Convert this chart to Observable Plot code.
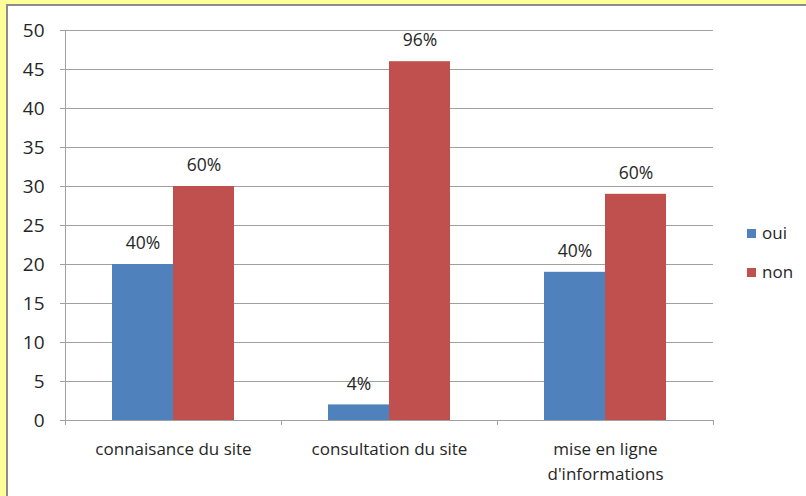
<!DOCTYPE html>
<html><head><meta charset="utf-8">
<script src="https://cdn.jsdelivr.net/npm/d3@7"></script>
<script src="https://cdn.jsdelivr.net/npm/@observablehq/plot@0.6"></script>
<style>
body{margin:0;background:#ffff99;width:806px;height:496px;overflow:hidden;position:relative;font-family:"Open Sans",sans-serif}
#panel{position:absolute;left:6px;top:4px;width:800px;height:492px;background:#fff;border-left:2px solid #8c8c8c;border-top:2px solid #8c8c8c}
#chart{position:absolute;left:0;top:0}
.leg{position:absolute;left:747px;font-size:17px;line-height:20px;color:#262626;display:flex;align-items:center}
.sw{width:9px;height:9px;margin-right:6px}
</style></head><body>
<div id="panel"></div>
<div id="chart"></div>
<div id="legend"></div>
<script>
const categories = ["connaisance du site", "consultation du site", "mise en ligne\nd'informations"];
const series = ["oui", "non"];
const ouiValues = [20, 2, 19];
const nonValues = [30, 46, 29];
const ouiLabels = ["40%", "4%", "40%"];
const nonLabels = ["60%", "96%", "60%"];
const yTicks = [0, 5, 10, 15, 20, 25, 30, 35, 40, 45, 50];
const colors = ["#4F81BD", "#C0504D"];

const rows = [];
categories.forEach((c, i) => {
  rows.push({category: c, series: "oui", value: ouiValues[i], label: ouiLabels[i]});
  rows.push({category: c, series: "non", value: nonValues[i], label: nonLabels[i]});
});

const gray = "#a0a0a0";
const ink = "#262626";
const chart = Plot.plot({
  width: 806, height: 496,
  marginLeft: 64, marginRight: 92, marginTop: 30, marginBottom: 76,
  style: {background: "transparent", fontFamily: "Open Sans", fontSize: "17px", color: ink},
  fx: {domain: categories, padding: 0, label: null, axis: null},
  x: {domain: series, paddingInner: 0, paddingOuter: 0.75, axis: null},
  y: {domain: [0, 50], axis: null},
  color: {domain: series, range: colors},
  marks: [
    Plot.gridY(yTicks, {stroke: gray, strokeOpacity: 1}),
    Plot.axisY(yTicks, {tickSize: 5, tickPadding: 16, stroke: gray, fill: ink, label: null, fontSize: 19}),
    Plot.axisFx({anchor: "bottom", tickSize: 0, tickPadding: 17, label: null, fontSize: 17, lineHeight: 1.45, fill: ink}),
    Plot.barY(rows, {fx: "category", x: "series", y: "value", fill: "series"}),
    Plot.text(rows, {fx: "category", x: "series", y: "value", text: "label", dy: -21, fill: ink, fontSize: 17.5}),
    Plot.ruleY([0], {stroke: gray})
  ]
});
document.getElementById("chart").appendChild(chart);

// axis line and category boundary ticks, placed with the plot's own scales
const fx = chart.scale("fx"), y = chart.scale("y");
const svg = d3.select(chart);
const g = svg.append("g").attr("stroke", gray).attr("stroke-width", 1);
const x0 = fx.apply(categories[0]);
g.append("line").attr("x1", x0 + 0.5).attr("x2", x0 + 0.5).attr("y1", y.apply(50)).attr("y2", y.apply(0));
const bounds = categories.map(c => fx.apply(c));
bounds.push(fx.apply(categories[categories.length - 1]) + fx.bandwidth);
bounds.forEach(b => {
  g.append("line").attr("x1", b + 0.5).attr("x2", b + 0.5).attr("y1", y.apply(0)).attr("y2", y.apply(0) + 5);
});

const legend = document.getElementById("legend");
const legendTops = [223, 262];
series.forEach((s, i) => {
  const d = document.createElement("div");
  d.className = "leg";
  d.style.top = legendTops[i] + "px";
  d.innerHTML = `<span class="sw" style="background:${colors[i]}"></span>${s}`;
  legend.appendChild(d);
});
</script>
</body></html>
